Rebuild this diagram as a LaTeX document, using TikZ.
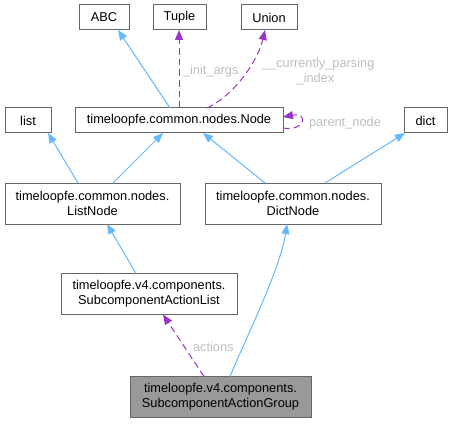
\documentclass[tikz,border=0pt]{standalone}
\usepackage{fontspec}
\setmainfont{Liberation Sans}
\usetikzlibrary{arrows.meta,calc}
\definecolor{edgeblue}{HTML}{63B8FF}
\definecolor{edgepurple}{HTML}{9A32CD}
\definecolor{boxborder}{HTML}{666666}
\definecolor{labelgrey}{HTML}{BEBEBE}
\definecolor{groupfill}{HTML}{999999}
\begin{document}
\begin{tikzpicture}[x=0.75pt,y=-0.75pt,
  every node/.style={font=\fontsize{9.6}{11.3}\selectfont, inner sep=0pt, outer sep=0pt},
  box/.style={draw=boxborder, line width=0.75pt, fill=white, align=center, minimum height=25*0.75pt},
  twobox/.style={box, minimum height=41*0.75pt},
  inherit/.style={draw=edgeblue, line width=0.75pt, -{Triangle[length=7.5pt,width=6pt]}},
  usage/.style={draw=edgepurple, line width=0.75pt, dashed, dash pattern=on 5pt off 3pt, -{Triangle[length=7.5pt,width=6pt]}},
  elabel/.style={text=labelgrey, align=left}
]
\useasboundingbox (0,0) rectangle (453,424);
% nodes
\node[box, minimum width=50*0.75pt] (abc) at (104,17.5) {ABC};
\node[box, minimum width=53*0.75pt] (tuple) at (179.5,17.5) {Tuple};
\node[box, minimum width=56*0.75pt] (union) at (269,17.5) {Union};
\node[box, minimum width=208*0.75pt] (node) at (179,120.5) {timeloopfe.common.nodes.Node};
\node[box, minimum width=46*0.75pt] (list) at (28,120.5) {list};
\node[box, minimum width=43*0.75pt] (dict) at (425.5,120.5) {dict};
\node[twobox, minimum width=175*0.75pt] (listnode) at (92.5,203.5) {timeloopfe.common.nodes.\\ListNode};
\node[twobox, minimum width=176*0.75pt] (dictnode) at (293,203.5) {timeloopfe.common.nodes.\\DictNode};
\node[twobox, minimum width=176*0.75pt] (sal) at (149,294) {timeloopfe.v4.components.\\SubcomponentActionList};
\node[twobox, minimum width=181*0.75pt, fill=groupfill] (group) at (220.5,397) {timeloopfe.v4.components.\\SubcomponentActionGroup};
% edges
\draw[inherit] ($(node.north west)+(95,0)$) -- ($(abc.south west)+(39,0)$);
\draw[usage] ($(node.north west)+(104,0)$) -- ($(tuple.south west)+(26,0)$);
\draw[usage] ($(node.north west)+(132,0)$) .. controls (235,95) and (258,60) .. ($(union.south west)+(24,0)$);
\draw[usage] ($(node.south east)+(0,-5)$) .. controls (305,132) and (309,112) .. ($(node.north east)+(0,9)$);
\draw[inherit] ($(listnode.north west)+(73,0)$) -- ($(list.south west)+(43,0)$);
\draw[inherit] ($(listnode.north west)+(108,0)$) -- ($(node.south west)+(88,0)$);
\draw[inherit] ($(dictnode.north west)+(60,0)$) -- ($(node.south west)+(128,0)$);
\draw[inherit] ($(dictnode.north west)+(120,0)$) -- ($(dict.south west)+(1,0)$);
\draw[inherit] ($(sal.north west)+(75,0)$) -- ($(listnode.south west)+(102,0)$);
\draw[inherit] ($(group.north west)+(100,0)$) .. controls (245,340) and (280,270) .. ($(dictnode.south west)+(82,0)$);
\draw[usage] ($(group.north west)+(74,0)$) -- ($(sal.south west)+(102,0)$);
% labels
\node[elabel, anchor=west] (lblinit) at (183,71) {\_init\_args};
\node[elabel, anchor=north west] (lblcur) at (262,58) {\_\_currently\_parsing\\\hspace*{26pt}\_index};
\node[elabel, anchor=west] (lblparent) at (309,123) {parent\_node};
\node[elabel, anchor=west] (lblactions) at (193,347) {actions};
\end{tikzpicture}
\end{document}
